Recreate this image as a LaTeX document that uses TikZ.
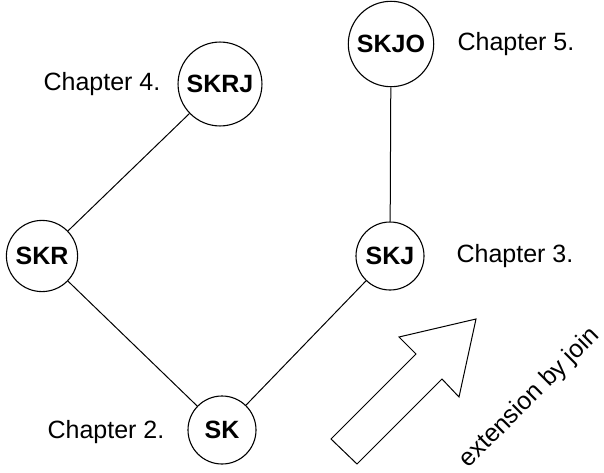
\documentclass[tikz,border=0pt]{standalone}
\usepackage{fontspec}
\setmainfont{Liberation Sans}
\begin{document}
\begin{tikzpicture}[x=1pt,y=-1pt,
    state/.style={draw, circle, line width=1.1pt, minimum size=68pt, inner sep=6pt,
      font=\fontsize{25}{30}\selectfont\bfseries},
    chap/.style={font=\fontsize{25}{30}\selectfont},
    edge/.style={line width=1pt}]
  \useasboundingbox (0,0) rectangle (604,473);
  % sub-schemas
  \node[state] (skjo) at (391,44) {SKJO};
  \node[state] (skrj) at (220,84) {SKRJ};
  \node[state] (skr) at (42,256) {SKR};
  \node[state] (skj) at (390,256) {SKJ};
  \node[state] (sk) at (222,430) {SK};
  \draw[edge] (sk) -- (skr);
  \draw[edge] (sk) -- (skj);
  \draw[edge] (skr) -- (skrj);
  \draw[edge] (skj) -- (skjo);
  % chapter labels
  \node[chap] (c2) at (106,432) {Chapter 2.};
  \node[chap] (c3) at (515,256) {Chapter 3.};
  \node[chap] (c4) at (102,84) {Chapter 4.};
  \node[chap] (c5) at (516,44) {Chapter 5.};
  % big arrow
  \draw[line width=1pt, line join=miter] (476,319) -- (399,337) -- (416,354) -- (331,439)
    -- (357,464) -- (442,379) -- (459,397) -- cycle;
  \node[chap, rotate=45] (ext) at (530,398) {extension by join};
\end{tikzpicture}
\end{document}
